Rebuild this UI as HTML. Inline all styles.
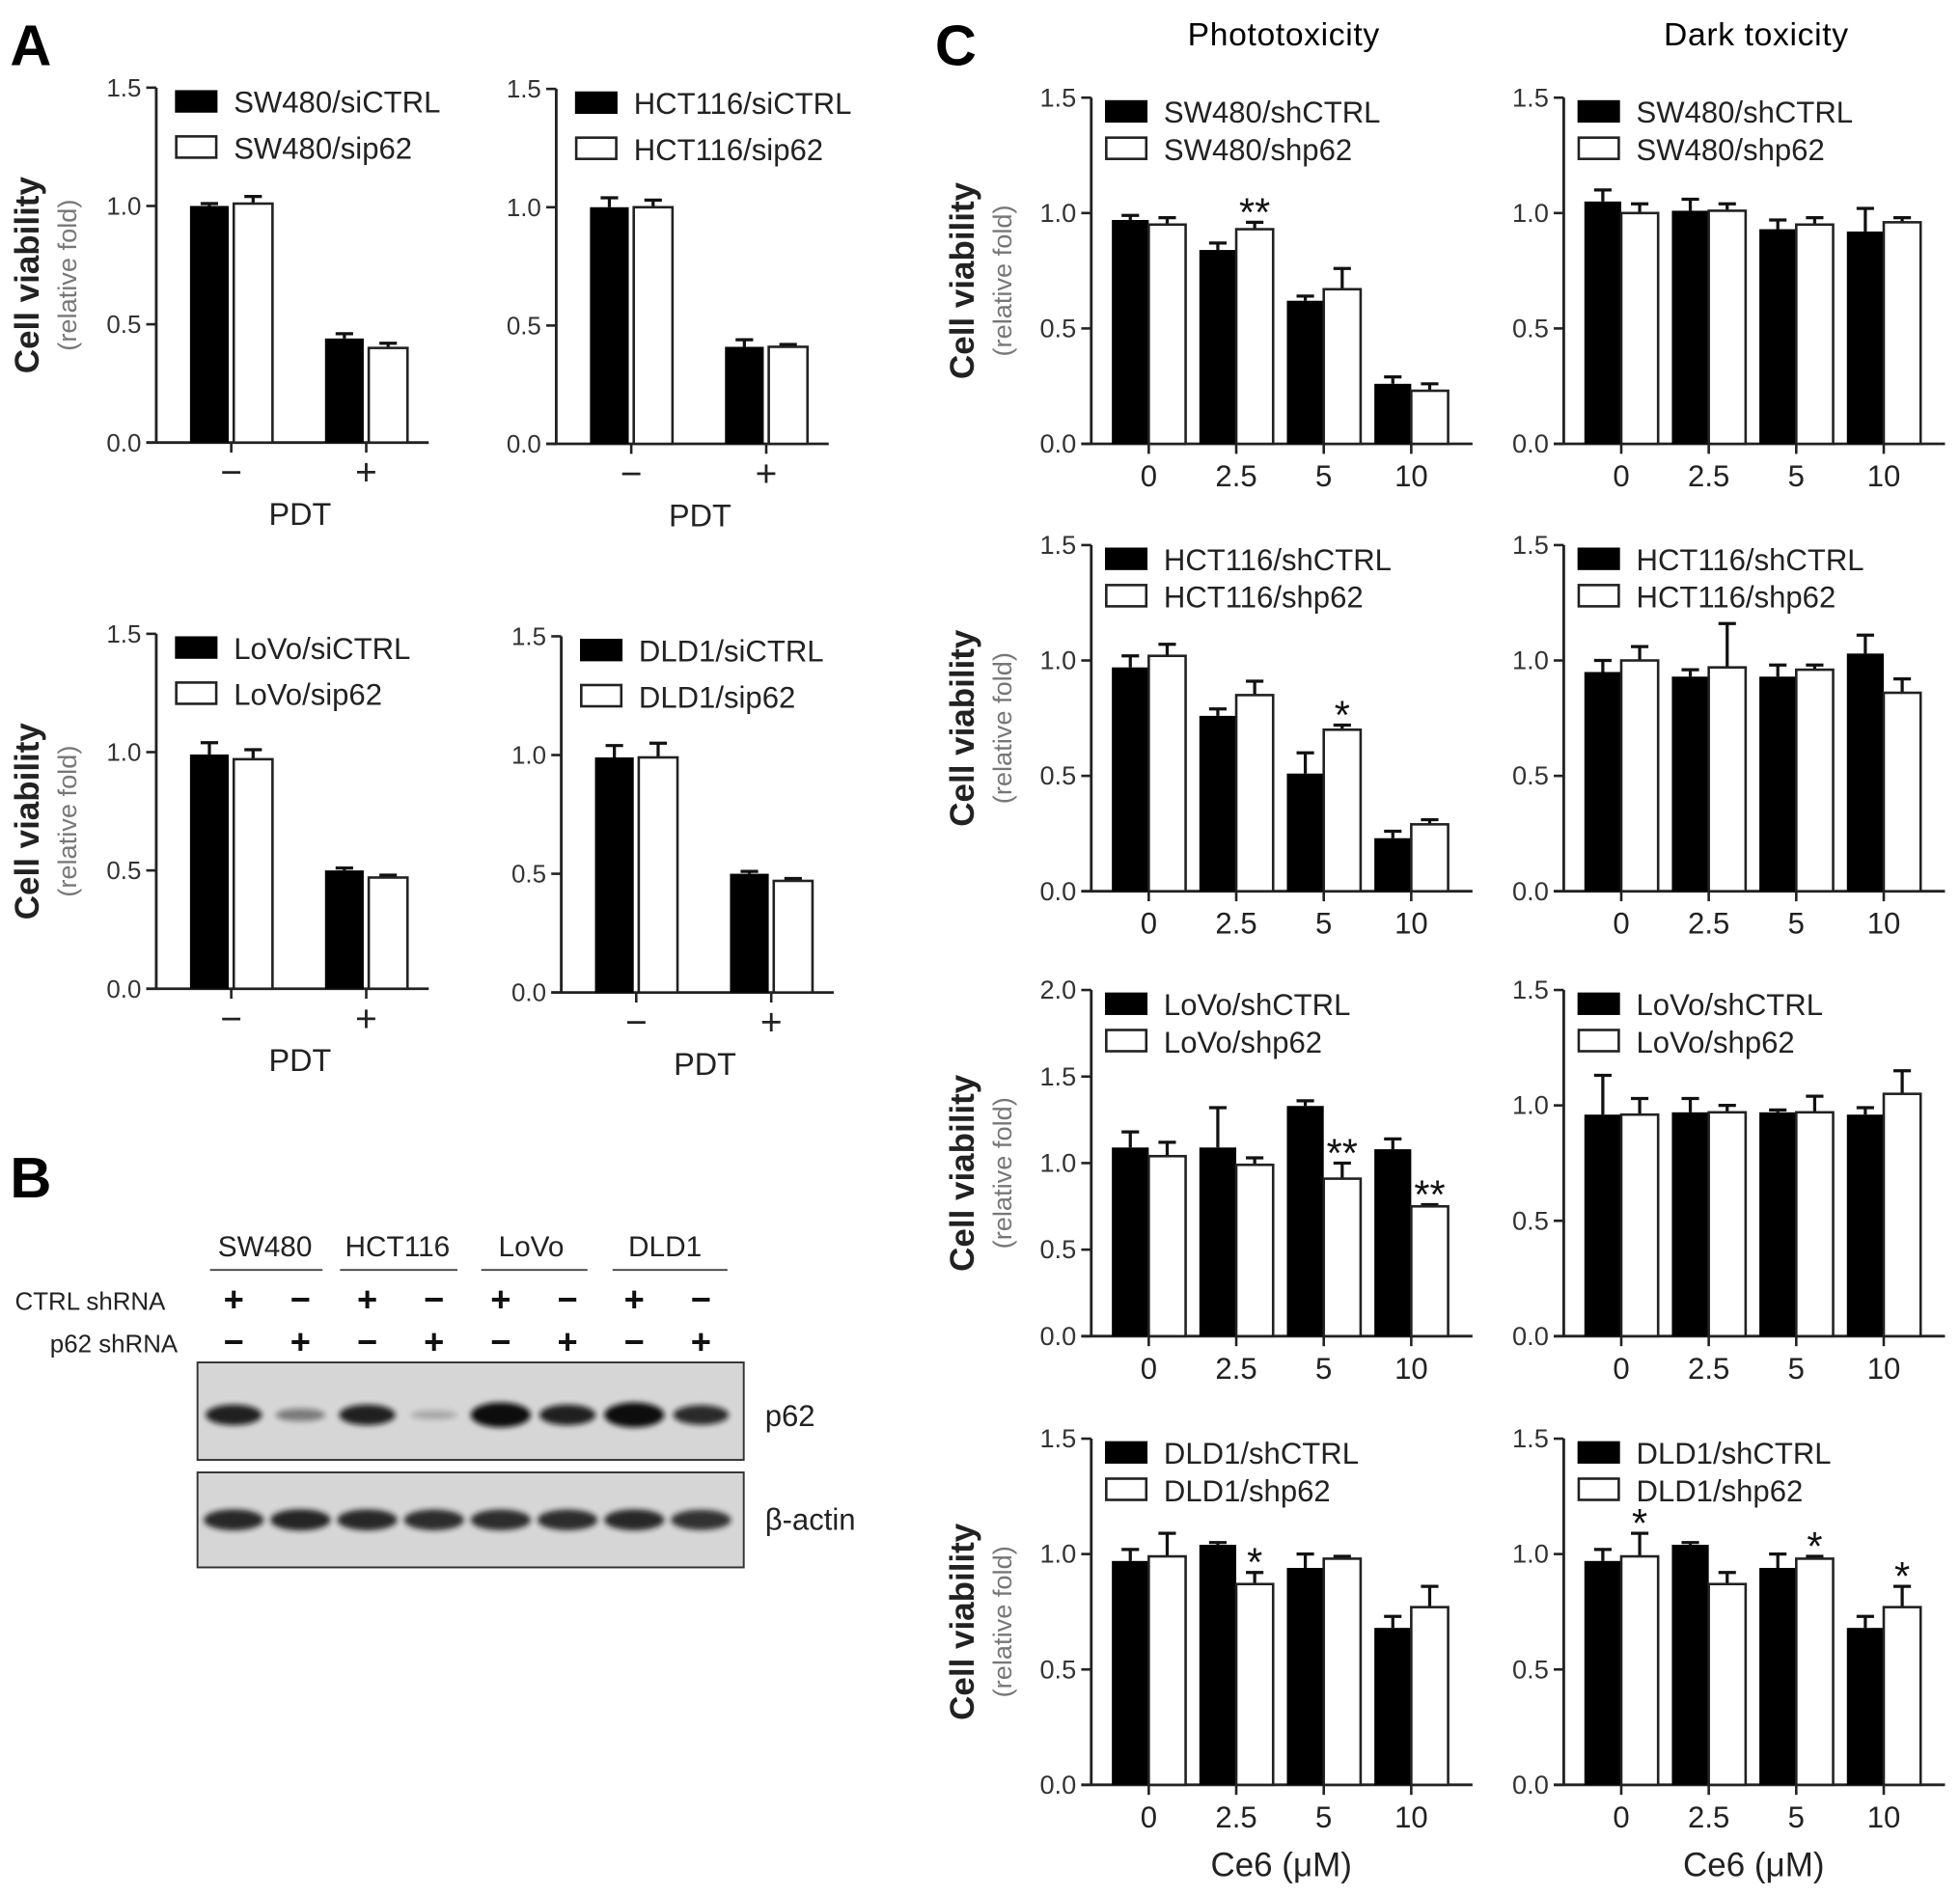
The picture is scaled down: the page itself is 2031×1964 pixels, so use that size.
<!DOCTYPE html>
<html><head><meta charset="utf-8"><style>
html,body{margin:0;padding:0;background:#fff;}
svg{display:block;font-family:"Liberation Sans",Arial,sans-serif;}
</style></head><body>
<svg id="fig" width="2031" height="1964" viewBox="0 0 1568 1516" xmlns="http://www.w3.org/2000/svg">
<defs><filter id="blur" x="-20%" y="-50%" width="140%" height="200%"><feGaussianBlur stdDeviation="2.2"/></filter></defs>
<rect x="0" y="0" width="1568" height="1516" fill="#fff"/>
<text x="8" y="52" font-size="46" font-weight="bold">A</text>
<text x="8" y="958" font-size="46" font-weight="bold">B</text>
<text x="748" y="52" font-size="46" font-weight="bold">C</text>
<text x="1027" y="36" font-size="26" text-anchor="middle" letter-spacing="0.5">Phototoxicity</text>
<text x="1405" y="36" font-size="26" text-anchor="middle" letter-spacing="0.5">Dark toxicity</text>
<g id="charts"></g>
<g id="blot"></g>
</svg>
<script>
// ---- Panel A data ----
const aCats = ["−", "+"];
const a1Black = [1.00, 0.44]; const a1BlackErr = [0.01, 0.02];
const a1White = [1.01, 0.40]; const a1WhiteErr = [0.03, 0.02];
const a2Black = [1.00, 0.41]; const a2BlackErr = [0.04, 0.03];
const a2White = [1.00, 0.41]; const a2WhiteErr = [0.03, 0.01];
const a3Black = [0.99, 0.50]; const a3BlackErr = [0.05, 0.01];
const a3White = [0.97, 0.47]; const a3WhiteErr = [0.04, 0.01];
const a4Black = [0.99, 0.50]; const a4BlackErr = [0.05, 0.01];
const a4White = [0.99, 0.47]; const a4WhiteErr = [0.06, 0.01];
const aTicks = [0, 0.5, 1.0, 1.5];
// ---- Panel C data ----
const cCats = ["0", "2.5", "5", "10"];
const cTicks15 = [0, 0.5, 1.0, 1.5];
const cTicks20 = [0, 0.5, 1.0, 1.5, 2.0];
const c1pBlack = [0.97, 0.84, 0.62, 0.26]; const c1pBlackErr = [0.02, 0.03, 0.02, 0.03];
const c1pWhite = [0.95, 0.93, 0.67, 0.23]; const c1pWhiteErr = [0.03, 0.03, 0.09, 0.03];
const c1pStars = ["", "**", "", ""];
const c1dBlack = [1.05, 1.01, 0.93, 0.92]; const c1dBlackErr = [0.05, 0.05, 0.04, 0.10];
const c1dWhite = [1.00, 1.01, 0.95, 0.96]; const c1dWhiteErr = [0.04, 0.03, 0.03, 0.02];
const c1dStars = ["", "", "", ""];
const c2pBlack = [0.97, 0.76, 0.51, 0.23]; const c2pBlackErr = [0.05, 0.03, 0.09, 0.03];
const c2pWhite = [1.02, 0.85, 0.70, 0.29]; const c2pWhiteErr = [0.05, 0.06, 0.02, 0.02];
const c2pStars = ["", "", "*", ""];
const c2dBlack = [0.95, 0.93, 0.93, 1.03]; const c2dBlackErr = [0.05, 0.03, 0.05, 0.08];
const c2dWhite = [1.00, 0.97, 0.96, 0.86]; const c2dWhiteErr = [0.06, 0.19, 0.02, 0.06];
const c2dStars = ["", "", "", ""];
const c3pBlack = [1.09, 1.09, 1.33, 1.08]; const c3pBlackErr = [0.09, 0.23, 0.03, 0.06];
const c3pWhite = [1.04, 0.99, 0.91, 0.75]; const c3pWhiteErr = [0.08, 0.04, 0.09, 0.01];
const c3pStars = ["", "", "**", "**"];
const c3dBlack = [0.96, 0.97, 0.97, 0.96]; const c3dBlackErr = [0.17, 0.06, 0.01, 0.03];
const c3dWhite = [0.96, 0.97, 0.97, 1.05]; const c3dWhiteErr = [0.07, 0.03, 0.07, 0.10];
const c3dStars = ["", "", "", ""];
const c4pBlack = [0.97, 1.04, 0.94, 0.68]; const c4pBlackErr = [0.05, 0.01, 0.06, 0.05];
const c4pWhite = [0.99, 0.87, 0.98, 0.77]; const c4pWhiteErr = [0.10, 0.05, 0.01, 0.09];
const c4pStars = ["", "*", "", ""];
const c4dBlack = [0.97, 1.04, 0.94, 0.68]; const c4dBlackErr = [0.05, 0.01, 0.06, 0.05];
const c4dWhite = [0.99, 0.87, 0.98, 0.77]; const c4dWhiteErr = [0.10, 0.05, 0.01, 0.09];
const c4dStars = ["*", "", "*", "*"];
// ---- Blot data ----
const blotLanes = ["SW480 +", "SW480 -", "HCT116 +", "HCT116 -", "LoVo +", "LoVo -", "DLD1 +", "DLD1 -"];
const p62Intensity = [0.75, 0.3, 0.75, 0.08, 1.0, 0.75, 1.0, 0.7];
const actinIntensity = [0.9, 0.92, 0.9, 0.88, 0.88, 0.88, 0.9, 0.85];

const NS = "http://www.w3.org/2000/svg";
const root = document.getElementById("charts");
function mk(tag, attrs, parent, txt){
  const e = document.createElementNS(NS, tag);
  for (const k in attrs) e.setAttribute(k, attrs[k]);
  if (txt !== undefined) e.textContent = txt;
  parent.appendChild(e);
  return e;
}

function chart(o){
  const g = mk("g", {}, root);
  
  
  const yMax = o.ticks[o.ticks.length-1];
  const yS = v => o.y0 - (o.y0 - o.yTop) * v / yMax;
  const xS = i => o.ax + o.first + i * o.step;
  const ya = mk("line", {x1:o.ax, y1:o.yTop, x2:o.ax, y2:o.y0, stroke:"#222", "stroke-width":2.2}, g);
  
  
  const xa = mk("line", {x1:o.ax-8, y1:o.y0, x2:o.axEnd, y2:o.y0, stroke:"#222", "stroke-width":2.2}, g);
  
  
  o.ticks.forEach(t => {
    const y = yS(t);
    mk("line", {x1:o.ax-8, y1:y, x2:o.ax, y2:y, stroke:"#222", "stroke-width":2}, g);
    const tl = mk("text", {x:o.ax-12, y:y+7, "font-size":o.ytSize, "text-anchor":"end", fill:"#333"}, g, t.toFixed(1));
    
    
  });
  const bw = o.bw;
  o.cats.forEach((c, i) => {
    const cx = xS(i);
    const bx = cx - bw - o.gap/2, wx = cx + o.gap/2;
    const by = yS(o.black[i]), wy = yS(o.white[i]);
    const be = yS(o.black[i] + o.blackErr[i]), we = yS(o.white[i] + o.whiteErr[i]);
    mk("line", {x1:bx+bw/2, y1:by, x2:bx+bw/2, y2:be, stroke:"#111", "stroke-width":2.5}, g);
    mk("line", {x1:bx+bw/2-7, y1:be, x2:bx+bw/2+7, y2:be, stroke:"#111", "stroke-width":2.5}, g);
    mk("line", {x1:wx+bw/2, y1:wy, x2:wx+bw/2, y2:we, stroke:"#111", "stroke-width":2.5}, g);
    mk("line", {x1:wx+bw/2-7, y1:we, x2:wx+bw/2+7, y2:we, stroke:"#111", "stroke-width":2.5}, g);
    const b = mk("rect", {x:bx, y:by, width:bw, height:o.y0-by, fill:"#000"}, g);
    
    
    const w = mk("rect", {x:wx, y:wy, width:bw, height:o.y0-wy, fill:"#fff", stroke:"#222", "stroke-width":2}, g);
    
    
    mk("line", {x1:cx, y1:o.y0, x2:cx, y2:o.y0+8, stroke:"#222", "stroke-width":2}, g);
    const xl = mk("text", {x:cx, y:o.y0+o.xlOff, "font-size":o.xlSize, "text-anchor":"middle", fill:"#222"}, g, c);
    
    
    if (o.stars && o.stars[i]) {
      const s = mk("text", {x:wx+bw/2, y:we+3, "font-size":32, "text-anchor":"middle", fill:"#111"}, g, o.stars[i]);
      
      
    }
  });
  const lx = o.ax + o.legDx, ly = o.yTop + 2;
  const l1 = mk("rect", {x:lx, y:ly, width:34, height:18, fill:"#000"}, g);
  
  
  const t1 = mk("text", {x:lx+47, y:ly+18, "font-size":o.legSize, fill:"#222"}, g, o.leg[0]);
  
  
  const l2 = mk("rect", {x:lx+1, y:ly+o.legGap, width:32, height:17, fill:"#fff", stroke:"#222", "stroke-width":2}, g);
  
  
  const t2 = mk("text", {x:lx+47, y:ly+o.legGap+18, "font-size":o.legSize, fill:"#222"}, g, o.leg[1]);
  
  
  if (o.xTitle) {
    const xt = mk("text", {x:o.xTitleX, y:o.xTitleY, "font-size":o.xtSize, "text-anchor":"middle", fill:"#222"}, g, o.xTitle);
    
    
  }
  if (o.yTitle) {
    const cy = (o.y0 + o.yTop)/2 + 8;
    const yt = mk("text", {x:0, y:0, "font-size":27, "font-weight":"bold", "text-anchor":"middle", fill:"#222", transform:"translate("+(o.ax-94)+","+cy+") rotate(-90)"}, g, "Cell viability");
    
    
    const ys = mk("text", {x:0, y:0, "font-size":21, "text-anchor":"middle", fill:"#777", transform:"translate("+(o.ax-64)+","+cy+") rotate(-90)"}, g, "(relative fold)");
    
    
  }
}

function aChart(name, ax, y0, yTop, black, bErr, white, wErr, leg, yTitle){
  chart({name, ax, y0, yTop, axEnd:ax+218, first:60, step:108, bw:31, gap:4, ticks:aTicks, cats:aCats,
    black, blackErr:bErr, white, whiteErr:wErr, leg, legDx:15, legGap:37, legSize:24, ytSize:20,
    xlOff:34, xlSize:30, xTitle:"PDT", xTitleX:ax+115, xTitleY:y0+66, xtSize:25, yTitle});
}
aChart("chart-a-sw480", 125, 354, 70, a1Black, a1BlackErr, a1White, a1WhiteErr, ["SW480/siCTRL","SW480/sip62"], true);
aChart("chart-a-hct116", 445, 355, 71, a2Black, a2BlackErr, a2White, a2WhiteErr, ["HCT116/siCTRL","HCT116/sip62"], false);
aChart("chart-a-lovo", 125, 791, 507, a3Black, a3BlackErr, a3White, a3WhiteErr, ["LoVo/siCTRL","LoVo/sip62"], true);
aChart("chart-a-dld1", 449, 794, 509, a4Black, a4BlackErr, a4White, a4WhiteErr, ["DLD1/siCTRL","DLD1/sip62"], false);

function cChart(name, ax, y0, yTop, ticks, black, bErr, white, wErr, stars, leg, yTitle, xTitle){
  chart({name, ax, y0, yTop, axEnd:ax+305, first:46, step:70, bw:29.5, gap:0, ticks, cats:cCats,
    black, blackErr:bErr, white, whiteErr:wErr, stars, leg, legDx:11, legGap:30, legSize:24, ytSize:21,
    xlOff:34, xlSize:24, xTitle: xTitle ? "Ce6 (μM)" : null, xTitleX:ax+152, xTitleY:y0+73, xtSize:27, yTitle});
}
cChart("chart-c-sw480-photo", 873, 355, 78, cTicks15, c1pBlack, c1pBlackErr, c1pWhite, c1pWhiteErr, c1pStars, ["SW480/shCTRL","SW480/shp62"], true, false);
cChart("chart-c-sw480-dark", 1251, 355, 78, cTicks15, c1dBlack, c1dBlackErr, c1dWhite, c1dWhiteErr, c1dStars, ["SW480/shCTRL","SW480/shp62"], false, false);
cChart("chart-c-hct116-photo", 873, 713, 436, cTicks15, c2pBlack, c2pBlackErr, c2pWhite, c2pWhiteErr, c2pStars, ["HCT116/shCTRL","HCT116/shp62"], true, false);
cChart("chart-c-hct116-dark", 1251, 713, 436, cTicks15, c2dBlack, c2dBlackErr, c2dWhite, c2dWhiteErr, c2dStars, ["HCT116/shCTRL","HCT116/shp62"], false, false);
cChart("chart-c-lovo-photo", 873, 1069, 792, cTicks20, c3pBlack, c3pBlackErr, c3pWhite, c3pWhiteErr, c3pStars, ["LoVo/shCTRL","LoVo/shp62"], true, false);
cChart("chart-c-lovo-dark", 1251, 1069, 792, cTicks15, c3dBlack, c3dBlackErr, c3dWhite, c3dWhiteErr, c3dStars, ["LoVo/shCTRL","LoVo/shp62"], false, false);
cChart("chart-c-dld1-photo", 873, 1428, 1151, cTicks15, c4pBlack, c4pBlackErr, c4pWhite, c4pWhiteErr, c4pStars, ["DLD1/shCTRL","DLD1/shp62"], true, true);
cChart("chart-c-dld1-dark", 1251, 1428, 1151, cTicks15, c4dBlack, c4dBlackErr, c4dWhite, c4dWhiteErr, c4dStars, ["DLD1/shCTRL","DLD1/shp62"], false, true);

// ---- Blot ----
const blot = document.getElementById("blot");
const laneX = i => 187 + i * 53.4;
const lines = [["SW480",212,168,258],["HCT116",318,272,366],["LoVo",425,385,470],["DLD1",532,490,582]];
lines.forEach(l => {
  const t = mk("text", {x:l[1], y:1005, "font-size":23, "text-anchor":"middle", fill:"#222"}, blot, l[0]);
  
  
  mk("line", {x1:l[2], y1:1016, x2:l[3], y2:1016, stroke:"#444", "stroke-width":1.5}, blot);
});
const r1 = mk("text", {x:12, y:1048, "font-size":20, fill:"#222"}, blot, "CTRL shRNA");


const r2 = mk("text", {x:40, y:1082, "font-size":20, fill:"#222"}, blot, "p62 shRNA");


blotLanes.forEach((ln, i) => {
  const plus = i % 2 === 0;
  mk("text", {x:laneX(i), y:1049, "font-size":28, "font-weight":"bold", "text-anchor":"middle", fill:"#111"}, blot, plus ? "+" : "−");
  mk("text", {x:laneX(i), y:1083, "font-size":28, "font-weight":"bold", "text-anchor":"middle", fill:"#111"}, blot, plus ? "−" : "+");
});
const box1 = mk("rect", {x:158, y:1090, width:437, height:78, fill:"#d6d6d6", stroke:"#333", "stroke-width":1.5}, blot);


const box2 = mk("rect", {x:158, y:1178, width:437, height:76, fill:"#d6d6d6", stroke:"#333", "stroke-width":1.5}, blot);


p62Intensity.forEach((v, i) => {
  const e = mk("ellipse", {cx:laneX(i), cy:1132, rx:18 + 6*v, ry:3 + 7*v, fill:"#111", opacity:Math.min(1, 0.15 + v), filter:"url(#blur)"}, blot);
  
  
});
actinIntensity.forEach((v, i) => {
  const e = mk("ellipse", {cx:laneX(i), cy:1216, rx:24, ry:3 + 6*v, fill:"#151515", opacity:v, filter:"url(#blur)"}, blot);
  
  
});
const p = mk("text", {x:612, y:1141, "font-size":24, fill:"#222"}, blot, "p62");


const a = mk("text", {x:612, y:1224, "font-size":24, fill:"#222"}, blot, "β-actin");


</script>
</body></html>
